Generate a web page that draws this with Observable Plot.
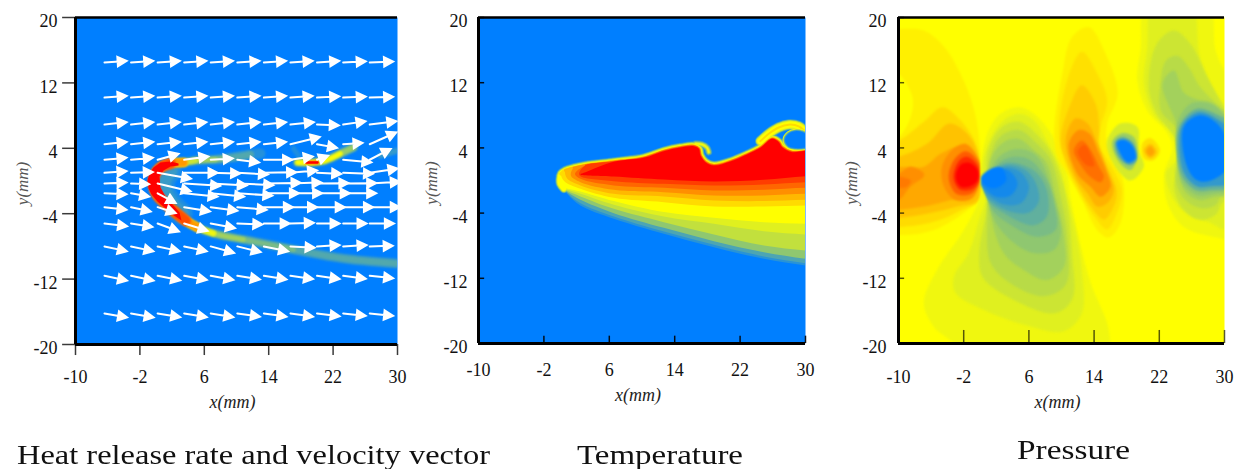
<!DOCTYPE html>
<html><head><meta charset="utf-8">
<script src="https://cdn.jsdelivr.net/npm/d3@7"></script>
<script src="https://cdn.jsdelivr.net/npm/@observablehq/plot@0.6"></script>
<style>
html,body{margin:0;padding:0;background:#fff;overflow:hidden}
#page{position:relative;width:1235px;height:469px;overflow:hidden}
#page svg{position:absolute;top:0;overflow:visible}
.ttl{position:absolute;font-family:"Liberation Serif",serif;font-size:28px;color:#111;white-space:nowrap;transform-origin:0 0;line-height:26px;height:26px}
</style></head>
<body><div id="page"></div>
<script>
const xTicks=[-10,-2,6,14,22,30];
const yTicks=[-20,-12,-4,4,12,20];
const levelDomain=[0,0.5,1];
const levelColors=["#007fff","#ffff00","#ff0000"];
const titles=["Heat release rate and velocity vector","Temperature","Pressure"];

// ---------- Panel 1: velocity vectors (mm)
const arrowX=[-6.4,-3.1,0.2,3.5,6.8,10.1,13.4,16.7,20,23.25,26.55];
const arrowY=[14.5,10.2,6.9,4.5,2.6,1.0,-0.3,-1.5,-3.2,-5.2,-8,-11.6,-16.2];
const arrowU=[
[2.75,2.75,2.75,2.75,2.75,2.75,2.75,2.75,2.75,2.8,2.9],
[2.75,2.75,2.75,2.75,2.75,2.75,2.75,2.75,2.75,2.8,2.9],
[2.75,2.75,2.75,2.75,2.75,2.75,2.75,2.9,2.7,2.77,3.3],
[2.75,2.75,2.75,2.75,2.75,2.75,2.75,3.64,2.48,2.4,3.3],
[2.73,2.7,2.6,3,2.73,2.7,3.5,2.77,1.37,3.5,2.6],
[2.73,2.7,4.14,4.14,3.64,3.8,4,3.3,3,3.7,3.44],
[2.73,2.24,4.1,4.47,4.47,4.47,4.55,3.85,3.9,4.1,3.73],
[2.73,2.24,2.24,4.14,4.14,4.35,4.35,3.93,4.06,4.1],
[2.73,2.44,2.24,3.2,3.3,3.64,3.6,3.3,3.44,3.7,3.73],
[2.8,2.65,2.65,2.9,3,3.1,3.2,2.9,2.8,2.9,3],
[2.77,2.77,2.73,2.8,2.9,2.9,3,3,2.8,2.9,2.85],
[2.8,2.8,2.8,2.8,2.8,2.8,2.8,2.8,2.8,2.8,2.9],
[2.8,2.8,2.8,2.8,2.8,2.8,2.8,2.8,2.8,2.8,2.9]];
const arrowV=[
[.18,.18,.18,.18,.18,.18,.18,.18,.18,.14,.12],
[.2,.2,.2,.2,.2,.2,.2,.2,.15,.12,.1],
[.3,.3,.3,.3,.3,.3,.3,.3,-.1,.41,.41],
[.28,.28,.28,.28,.28,.28,.28,.9,-.45,.16,1.47],
[.24,.24,.73,.41,.16,-.33,0,.41,.49,-.33,1.35],
[.2,.1,-.73,0,-.08,-.2,.08,.29,-.12,-.12,.53],
[.12,-.08,-.98,-.29,-.24,-.2,.08,.12,.04,.04,.2],
[-.12,-.41,-1.22,-.41,-.41,-.29,0,0,0,0],
[-.33,-.53,-.73,-.53,-.45,-.33,0,0,0,0,0],
[-.33,-.41,-.98,-.9,-.57,-.12,0,.08,0,0,0],
[-.6,-.6,-.6,-.6,-.8,-.7,-.6,-.16,.16,.16,.08],
[-.6,-.6,-.55,-.5,-.5,-.45,-.45,-.4,-.4,-.35,-.3],
[-.5,-.5,-.45,-.45,-.45,-.4,-.4,-.4,-.35,-.3,-.3]];

// Panel 1: flame centre line and blobs (mm)
const flameArc=[[12.98,3.36],[11.74,3.24],[8.63,2.75],[7.39,2.63],[4.91,2.51],[3.42,2.26],[1.8,2.14],[.56,1.65],[-.19,.67],[-.31,-.55],[.19,-1.77],[1.18,-2.75],[2.42,-3.85],[3.66,-4.83],[5.16,-5.69],[7.14,-6.42],[10.87,-7.16],[17.08,-8.38],[23.29,-9.48],[30,-10.09],[32,-10.2]];
const flameHalo=[[1.8,1.2],[1.1,.3],[1,-1],[1.8,-2.6],[3.2,-4]];
const flameCore=[[2.8,2.14],[1.8,2.39],[.56,2.26],[-.31,1.65],[-.81,.92],[-1.06,.06],[-.93,-.92],[-.56,-1.65],[.19,-2.51],[1.06,-3.24],[2.05,-4.1],[3.17,-4.83],[2.92,-3.85],[2.05,-2.87],[1.18,-1.9],[.56,-.8],[.43,.55],[.93,1.28],[1.8,1.77],[2.8,1.9]];
const smallFlame=[[17.58,2.26],[19.44,2.26],[21.06,2.51],[22.92,3.36],[24.53,4.1]];
const smallCore=[[18.7,2.26],[20.06,2.26]];
const faintRight=[[27.89,3.12],[30,3.73]];
const faintUpper=[[17.08,3.98],[17.7,3.12]];

// ---------- Panel 2: temperature contours (mm)
const tempLevels=[.08,.15,.28,.38,.44,.5,.57,.64,.72,.8,.88,1];
const tempBottomX=[34,30,24.9,18.8,12.67,6.55,2.47];
const tempBottomY=[
[-11,-10.43,-9.61,-8.18,-6.54,-4.7,-3.07],
[-10.7,-10.14,-9.32,-7.89,-6.26,-4.42,-2.78],
[-10.2,-9.61,-8.79,-7.44,-5.81,-4.01,-2.37],
[-9,-8.59,-7.97,-6.62,-5.11,-3.48,-1.96],
[-6.9,-6.62,-6.22,-5.32,-4.42,-2.98,-1.64],
[-5.5,-5.32,-5.11,-4.58,-3.88,-2.53,-1.35],
[-3.07,-3.07,-3.19,-3.19,-2.66,-2.13,-1.02],
[-2.37,-2.37,-2.53,-2.45,-1.96,-1.64,-.61],
[-1.64,-1.64,-1.84,-1.84,-1.43,-1.14,-.21],
[-.9,-.9,-1.14,-1.23,-.9,-.61,.2],
[-.2,-.2,-.49,-.61,-.41,-.08,.53],
[.53,.53,.08,-.12,.12,.49,.75]];
const tempTipX=[.9,.9,.9,.9,.9,.9,.5,.8,1.3,1.8,2.3,3.09];
const tempTipY=[-1.7,-1.6,-1.45,-1.3,-1.15,-1,-.1,.3,.6,.8,.9,1];
const tempTopStart=[0,0,0,0,0,0,3,4,5,6,6,7];
const tempTop=[[.44,-1],[0,-.4],[-.05,.1],[.1,.82],[.64,1.23],[1.66,1.55],[3.09,1.85],[6.55,2.29],[10.22,2.78],[12.67,3.6],[14.7,4.05],[16.34,4.21],[16.95,3.89],[17.15,3.07],[17.76,2.25],[18.78,1.84],[20.82,2.33],[22.86,3.19],[24.49,4.01],[25.92,5.11],[26.73,4.7],[27.14,4.09],[28.36,3.48],[30.2,3.68],[34,3.7]];
const tempArm=[[24.49,4.83],[25.51,5.73],[26.73,6.5],[27.95,6.85],[29.18,6.65],[30.2,5.83],[31.4,5.4]];
const tempHook=[[16.54,4.5],[17.35,4.42],[17.97,4.01],[18.17,3.48]];
const tempHole=[[27.5,5],[27.95,5.75],[28.77,6.05],[29.58,5.95],[30.2,5.62],[31.4,5.11],[31.4,4.4],[30,4.05],[28.77,3.98],[27.95,4.2]];

// ---------- Panel 3: pressure contours (mm) as [level, outline]
const pressureLeft=[
[.53,[[-12,18.6],[-10,18.6],[-6.9,18.4],[-4.4,16.4],[-2.4,13.1],[-.8,9],[0,4.1],[0,.86],[0,-2],[-2,-4],[-4.8,-5.7],[-7.3,-6.5],[-10,-6.7],[-12,-6.7]]],
[.5,[[-11,13.1],[-10,13.1],[-8.3,10.3],[-8.5,7.8],[-10,5.3],[-11,5]]],
[.57,[[-12,4.6],[-10,4.9],[-6.9,7.2],[-4.6,9],[-2.4,7.4],[-.5,4.5],[0,1.7],[-.1,-2.4],[-2.2,-3.6],[-4.8,-4.8],[-7.7,-5.5],[-10,-5.7],[-12,-5.7]]],
[.62,[[-12,2.7],[-10,2.9],[-6.5,4.5],[-3.8,7],[-1.6,5.8],[-.3,3.3],[-.3,-2.4],[-2.8,-3.2],[-6.1,-4],[-10,-4.6],[-12,-4.6]]],
[.67,[[-12,1.7],[-10,1.7],[-6.9,1.7],[-4.8,3.3],[-2.4,4.1],[-.3,2.5],[-.8,-1.6],[-3.6,-2.4],[-6.9,-3.2],[-10,-3.6],[-12,-3.6]]],
[.72,[[-12,.9],[-10,.9],[-8.5,1.7],[-6.9,.9],[-6.9,.5],[-8.5,-.7],[-10,-2.4],[-12,-2.4]]],
[.76,[[-11,.5],[-10,.5],[-8.5,0],[-9,-.8],[-10,-.9],[-11,-.9]]],
[.72,[[-4.7,1.5],[-3.6,3.6],[-1.8,4.5],[-.2,2.6],[-.1,-.4],[-1,-2.2],[-3,-2.4],[-4.4,-.8]]],
[.82,[[-3.8,1],[-3,2.8],[-1.7,3.6],[-.2,2.2],[-.2,-.4],[-1,-1.6],[-2.8,-1.7],[-3.7,-.4]]],
[.92,[[-3.2,1],[-2.6,2.4],[-1.6,2.9],[-.3,1.8],[-.2,-.2],[-1,-1.1],[-2.5,-1.1],[-3.2,0]]],
[1,[[-2.9,1],[-2.3,2],[-1.4,2.2],[-.3,1.3],[-.3,0],[-1,-.6],[-2.3,-.8],[-2.9,0]]]];
const pressureCenter=[
[.47,[[0,-2],[-2,-6.1],[-5.3,-11],[-6.9,-15],[-5.7,-17.9],[-3.2,-20],[-1,-23],[16,-23],[16,-20],[15.6,-17.5],[13.6,-12.6],[12.3,-7.7],[11.1,-2],[10.7,.9],[8.7,5.8],[6.6,8.2],[4.8,9],[2.5,8.2],[.9,5.8],[.1,1.7]]],
[.44,[[.7,-2],[-.1,-4.8],[-1.4,-8.9],[-3.2,-11.8],[-3,-13.8],[.5,-15.9],[5.4,-17.7],[10.3,-18.5],[12.5,-16.3],[12.5,-11],[11.7,-6.1],[10.7,-2],[9.9,1.3],[8.2,4.9],[6.6,7.4],[4.8,8.2],[2.9,7.4],[1.3,5.2],[.3,1.7]]],
[.4,[[.9,-2.8],[-.1,-8.9],[.3,-11.8],[3.3,-14.2],[9.1,-16.3],[11.3,-14.6],[11.3,-8.9],[10.7,-2.8],[9.5,1.7],[8,4.5],[4.8,7.2],[2.5,6.4],[.9,3.3]]],
[.36,[[.9,-4],[1.3,-10.1],[3.7,-12.6],[7.8,-14.2],[10.5,-12.8],[10.7,-6.9],[9.9,-2],[8.7,2.5],[7,4.5],[4.8,6.2],[2.5,5.4],[1.3,2.9]]],
[.32,[[1.3,-4],[2.9,-8.9],[5.4,-11],[8.2,-12.2],[10.3,-10.6],[10.3,-6.9],[9.3,-2],[8.2,2.1],[6.6,3.7],[4.8,5.1],[2.9,4.7],[1.3,2.5]]],
[.28,[[1.3,-3.6],[3.3,-6.9],[6.6,-8.9],[9.1,-8.5],[9.9,-6.5],[9.1,-2.4],[7.4,2.5],[5.8,3.7],[3.7,3.7],[1.7,2.1]]],
[.24,[[1.3,-3.2],[4.2,-5.7],[7,-6.9],[9.3,-6],[9.1,-2.8],[8.2,.1],[6.2,2.5],[4.2,2.9],[2.1,1.9]]],
[.19,[[.9,-2.2],[2.9,-4],[6.6,-5.5],[8.2,-4.4],[8.2,-1.2],[7,.9],[5.5,1.8],[3.5,2.2],[1.5,1.2]]],
[.14,[[.5,-1.4],[2.7,-3.4],[5.8,-4],[7.2,-2.6],[6.8,-.2],[5.4,1.4],[3.4,1.9],[1.4,1]]],
[.09,[[.1,-.4],[2.5,-2.8],[5,-2.8],[6,-.8],[5,1],[3.3,1.6],[1.3,.9]]],
[.04,[[.3,-.4],[2,-2],[3.8,-1.8],[4.6,-.4],[3.8,1],[2.5,1.4],[1,.8]]],
[0,[[.1,.3],[1.5,1.5],[2.7,1.5],[3.2,0],[2,-.9],[.8,-.7]]]];
const pressureMiddle=[
[.53,[[9.1,5.8],[10.1,13.1],[11.3,17.6],[13.4,18.8],[15.2,16],[16.9,10.7],[15.6,7],[15.6,4.5],[17.2,1.3],[17.7,-1.2],[17.2,-5.3],[15.8,-7],[14.4,-6.1],[12.5,-2.4],[10.7,.9],[9.5,2.9]]],
[.56,[[9.7,5.8],[10.7,12.3],[12.5,15.8],[14.4,13.1],[15.6,9.8],[14.8,6.6],[14.6,4.5],[16.4,1.3],[17.4,-1.2],[16.8,-4],[15.6,-6],[14,-4.4],[12.3,-1.6],[10.7,1.7]]],
[.6,[[9.9,5],[11.1,9.4],[12.5,11.7],[14.2,9.4],[14.6,6.6],[14.6,4.1],[16,.9],[16.8,-1.6],[16,-4],[15.2,-4.8],[13.6,-3.2],[11.9,-.4],[10.5,2.5]]],
[.65,[[10.5,5],[11.7,7.6],[13.2,7],[14.4,4.5],[15.6,1.3],[16.4,-1.2],[15.6,-2.8],[14.4,-3.2],[13.2,-1.6],[11.7,.5]]],
[.72,[[10.9,4.5],[12.1,6.2],[13.4,5.8],[14.6,3.3],[15.6,.9],[16,-.8],[14.8,-2],[13.6,-.8],[11.9,.9]]],
[.78,[[11.5,3.7],[12.5,4.9],[13.6,3.7],[14.6,1.7],[15.2,.5],[14.8,-.2],[13.6,.4],[12.5,1.7]]],
[.82,[[12,3.6],[12.8,4.4],[13.6,3.2],[14,1.8],[13.2,1.8],[12.4,2.6]]]];
const pressureVortex=[
[.42,[[15.6,4.9],[17.2,7],[19.3,6.6],[19.5,3.7],[20.1,1.7],[18.5,0],[17.2,.9],[15.8,3.3]]],
[.3,[[16.2,4.7],[17.4,5.8],[18.9,5.3],[19.3,2.9],[18.5,1.3],[17.2,2.1]]],
[.15,[[16.6,4.7],[17.4,5.3],[18.7,4.7],[19.2,2.5],[18.3,1.9],[17,2.9]]],
[0,[[16.8,4.7],[17.6,5],[18.7,4.3],[19.1,2.7],[18.1,2.2],[17.2,3.3]]],
[.56,[[19.9,4.5],[20.9,5.2],[22.1,3.7],[21.3,2.5],[20.1,2.7]]],
[.62,[[20.1,3.7],[20.9,4.5],[21.7,3.5],[20.9,2.7]]],
[.68,[[20.4,3.6],[20.9,4.2],[21.4,3.5],[20.9,3]]]];
const pressureRight=[
[.47,[[20.5,22],[19.7,16],[19.3,12.3],[20.5,8.6],[23,5.8],[23.6,3.9],[22.6,.9],[23,-2.8],[25,-5.7],[29.5,-7.1],[32,-7.5],[33,0],[33,10],[30,13.5],[28.9,16],[27.9,22]]],
[.44,[[21.3,22],[20.5,16],[20.1,11.9],[21.3,8.2],[23.8,5.4],[24,2.5],[22.8,.9],[23.8,-2.4],[25.8,-4.4],[28.3,-5.2],[29.9,-6],[32,-6],[32,8],[29.9,9.4],[28.7,11],[27,15.1],[25.8,22]]],
[.4,[[21.7,16.8],[23.8,18.4],[25.8,16.8],[27.9,12.7],[29.9,9],[32,5],[32,-3],[29.9,-2.6],[28.9,-4.2],[27,-4.8],[25,-3.6],[23.8,-.8],[24.6,2],[23.8,5.4],[21.7,8.2],[20.7,11.4]]],
[.36,[[22.2,8.6],[22.1,11.5],[22.8,14.7],[24.2,15.3],[25.6,13.9],[27,11.5],[29.5,9],[32,7],[32,-2],[29.9,-1.6],[28.9,-3],[27.2,-3.4],[25.2,-2.4],[24,0],[24.4,5.8]]],
[.32,[[22.4,11.9],[23.8,13.5],[25,10.8],[26.5,10],[28.3,9.6],[30,8.2],[32,5],[32,-1.5],[28.9,-2],[27,-2.4],[25.2,-1.4],[24.5,1],[24.4,6]]],
[.28,[[24.2,7],[25.8,9.4],[28.3,9.4],[30,8],[32,5],[32,-1],[28.9,-1.6],[26.7,-1.8],[24.8,-.3],[24.2,3]]],
[.2,[[24.4,6.5],[26.6,8.8],[29.3,8],[32,6],[32,-.5],[28.4,-1.2],[26.5,-1.2],[24.7,.7]]],
[.1,[[24.7,6.6],[26.8,8.4],[29.2,7.5],[32,5],[32,0],[28.4,-.7],[26.6,-.7],[25,1]]],
[0,[[25,6.6],[27,8],[29.1,7],[30.5,4.5],[30.5,1.7],[28.3,0],[26.7,0],[25.4,1.7]]]];

// ---------- helpers
let soft="none";
const rows=(pts)=>pts.map(([x,y])=>({x,y}));
const poly=(pts,level,curve="catmull-rom-closed")=>Plot.line(rows(pts),{x:"x",y:"y",fill:()=>level,stroke:"none",curve,clip:true,imageFilter:soft});
const band=(pts,level,w,curve="catmull-rom")=>Plot.line(rows(pts),{x:"x",y:"y",stroke:()=>level,strokeWidth:w,strokeLinecap:"round",strokeLinejoin:"round",curve,clip:true,imageFilter:soft});
const arrowShape={draw(ctx,l){
  ctx.moveTo(0,0);ctx.lineTo(0,-l+4);
  ctx.moveTo(-4.7,-l+9);ctx.lineTo(0,-l);ctx.lineTo(4.7,-l+9);ctx.closePath();
}};

function panel({field,marks,left,width,frameLeft,frameRight,frameBottom,ticksOut,xTickLen,yTickLen,xLabelGap,yLabelGap,xTitleGap,yTitleGap,tickOpacity}){
  const height=440;
  const xs=xTicks,ys=yTicks;
  const ticks=ticksOut
   ?[Plot.ruleX(xs,{y1:-20,y2:-20-xTickLen,stroke:"#3a3a3a",strokeWidth:1.5}),
     Plot.ruleY(ys,{x1:-10,x2:-10-yTickLen,stroke:"#3a3a3a",strokeWidth:1.5})]
   :[Plot.ruleX(xs,{y1:-20,y2:-20+xTickLen,stroke:"#000",strokeOpacity:tickOpacity,strokeWidth:1.5}),
     Plot.ruleY(ys,{x1:-10,x2:-10+yTickLen,stroke:"#000",strokeOpacity:tickOpacity,strokeWidth:1.5})];
  const svg=Plot.plot({
    width,height,marginLeft:frameLeft-left,marginRight:width-(frameRight-left),marginTop:17,marginBottom:height-frameBottom,
    x:{domain:[-10,30],axis:null},y:{domain:[-20,20],axis:null},
    color:{type:"linear",domain:levelDomain,range:levelColors,interpolate:"rgb"},
    length:{type:"linear",domain:[0,1],range:[0,8.05]},
    style:{fontFamily:"Liberation Serif",fontSize:"18px",color:"#111",background:"transparent"},
    marks:[
      Plot.frame({fill:field,stroke:"none"}),
      ...marks,
      ...ticks,
      Plot.ruleX([-10],{stroke:"#000",strokeWidth:3}),
      Plot.ruleY([20],{stroke:"#000",strokeWidth:2.5}),
      Plot.ruleY([-20],{stroke:"#000",strokeWidth:3}),
      Plot.axisX(xs,{anchor:"bottom",label:null,tickSize:0,tickPadding:xLabelGap,fontSize:18,tickFormat:String,stroke:"none"}),
      Plot.axisY(ys,{anchor:"left",label:null,tickSize:0,tickPadding:yLabelGap,dy:4,fontSize:18,tickFormat:String,stroke:"none"}),
      Plot.text(["x(mm)"],{x:()=>9.5,y:()=>-20,dy:xTitleGap,fontSize:18,fontStyle:"italic",fontFamily:"Liberation Serif",fill:"#222"}),
      Plot.text(["y(mm)"],{x:()=>-10,y:()=>-0.3,dx:yTitleGap,rotate:-90,fontSize:17,fontStyle:"italic",fontFamily:"Liberation Serif",fill:"#555"})
    ]
  });
  svg.style.left=left+"px";
  document.getElementById("page").appendChild(svg);
}

// ---------- Panel 1 marks
const arrows=[];
arrowY.forEach((y,r)=>arrowU[r].forEach((u,i)=>arrows.push({x:arrowX[i],y,u,v:arrowV[r][i]})));
const seg=(a,b)=>flameArc.slice(a,b);
soft="blur(0.8px)";
const heatMarks=[
  band(flameHalo,.06,22),band(flameHalo,.11,14),
  band(faintUpper,.06,5),band(faintRight,.1,6),
  band(seg(0,21),.07,10),band(seg(1,21),.16,7),band(seg(2,18),.24,5),
  band(seg(3,17),.32,4.5),band(seg(4,16),.4,5),band(seg(5,16),.47,5),band(seg(5,15),.5,8),
  band(seg(5,15),.7,9),band(seg(6,14),.85,11),
  band(smallFlame,.1,9),band(smallFlame,.3,6.5),band(smallFlame.slice(0,4),.42,4.5),
  band(smallFlame.slice(1,4),.5,3.5),band(smallFlame.slice(0,2),.5,4),band(smallCore,.75,4)
];
soft="none";
heatMarks.push(band(smallCore,1,2.4),poly(flameCore,1,"linear"),
  Plot.vector(arrows,{x:"x",y:"y",
    length:d=>Math.hypot(d.u,d.v),
    rotate:d=>Math.atan2(d.u,d.v)*180/Math.PI,
    anchor:"start",shape:arrowShape,fill:"#fff",stroke:"#fff",strokeWidth:2,strokeLinejoin:"miter"}));

// ---------- Panel 2 marks
const topWidth=[9.4,8.4,7.4,6.4,5.4,4.4,3.6,3,2.4,1.7,.9,0];
const armWidth=[11,10.4,9.4,8.4,7.6,6,2,0,0,0,0,0];
const hookWidth=[7,6,4.5,3,2,.8,0,0,0,0,0,0];
const tempMarks=[];
soft="blur(0.7px)";
tempLevels.forEach((lv,i)=>{
  if(armWidth[i]>0) tempMarks.push(band(tempArm,lv,armWidth[i]));
  if(hookWidth[i]>0) tempMarks.push(band(tempHook,lv,hookWidth[i]));
  const top=tempTop.slice(tempTopStart[i]);
  const bottom=tempBottomX.map((x,k)=>[x,tempBottomY[i][k]]);
  tempMarks.push(poly([...top,...bottom,[tempTipX[i],tempTipY[i]]],lv));
  if(topWidth[i]>0) tempMarks.push(band(top,lv,topWidth[i]));
});
[[.5,5],[.4,4],[.25,3],[.1,1.8]].forEach(([lv,w])=>tempMarks.push(Plot.line(rows(tempHole),{x:"x",y:"y",stroke:()=>lv,strokeWidth:w,fill:"none",curve:"catmull-rom-closed",clip:true,imageFilter:soft})));
tempMarks.push(poly(tempHole,0));

// ---------- Panel 3 marks
soft="blur(0.9px)";
const pressureMarks=[...pressureLeft,...pressureCenter,...pressureMiddle,...pressureVortex,...pressureRight]
  .map(([lv,pts])=>poly(pts,lv));
soft="none";

panel({field:"#007fff",marks:heatMarks,left:0,width:420,frameLeft:75,frameRight:397,frameBottom:344,ticksOut:true,xTickLen:1.35,yTickLen:1.6,xLabelGap:26,yLabelGap:18,xTitleGap:58,yTitleGap:-53});
panel({field:"#007fff",marks:tempMarks,left:420,width:410,frameLeft:478,frameRight:805,frameBottom:343,ticksOut:false,xTickLen:.9,yTickLen:.75,xLabelGap:20,yLabelGap:11,xTitleGap:52,yTitleGap:-47,tickOpacity:.9});
panel({field:"#ffff00",marks:pressureMarks,left:830,width:405,frameLeft:898,frameRight:1224,frameBottom:343,ticksOut:false,xTickLen:1.6,yTickLen:.75,xLabelGap:27,yLabelGap:12,xTitleGap:59,yTitleGap:-47,tickOpacity:.65});

// ---------- titles
[[titles[0],17,490,442],[titles[1],577,743,442],[titles[2],1017,1130,437]].forEach(([t,x0,x1,top])=>{
  const d=document.createElement("div");d.className="ttl";d.textContent=t;
  d.style.left=x0+"px";d.style.top=top+"px";
  document.getElementById("page").appendChild(d);
  const w=d.getBoundingClientRect().width;
  d.style.transform=`scaleX(${(x1-x0)/w})`;
});
</script></body></html>
